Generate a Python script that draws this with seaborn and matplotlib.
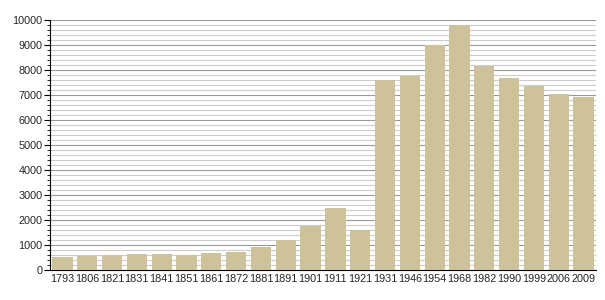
import matplotlib
matplotlib.use("Agg")
import matplotlib.pyplot as plt
import seaborn as sns
import pandas as pd
from matplotlib.ticker import MultipleLocator

years = ["1793", "1806", "1821", "1831", "1841", "1851", "1861", "1872", "1881", "1891",
         "1901", "1911", "1921", "1931", "1946", "1954", "1968", "1982", "1990", "1999",
         "2006", "2009"]
population = [530, 560, 590, 640, 640, 600, 680, 720, 920, 1200,
              1770, 2480, 1600, 7600, 7780, 9000, 9800, 8160, 7690, 7370,
              7040, 6930]

df = pd.DataFrame({"year": years, "pop": population})

sns.set_theme(style="white")
plt.rcParams['font.family'] = ['Liberation Sans', 'DejaVu Sans']

fig = plt.figure(figsize=(6.05, 3.0), dpi=100)
ax = fig.add_axes([50/605, 30/300, 546/605, 250/300])

sns.barplot(data=df, x="year", y="pop", color="#cdc29a", saturation=1, width=0.82,
            linewidth=0, edgecolor="none", ax=ax, zorder=3)

ax.set_ylim(0, 10000)
ax.set_xlim(-0.5, len(years) - 0.5)
ax.yaxis.set_major_locator(MultipleLocator(1000))
ax.yaxis.set_minor_locator(MultipleLocator(200))
ax.grid(axis="y", which="major", color="#999999", linewidth=0.8, zorder=0)
ax.grid(axis="y", which="minor", color="#cccccc", linewidth=0.8, zorder=0)
ax.set_axisbelow(True)

for s in ["top", "right"]:
    ax.spines[s].set_visible(False)
ax.spines["left"].set_color("black")
ax.spines["bottom"].set_color("black")
ax.spines["left"].set_linewidth(0.8)
ax.spines["bottom"].set_linewidth(0.8)

ax.tick_params(axis="y", which="major", left=True, length=4, width=0.8, color="black",
               labelsize=7.8, pad=1.5)
ax.tick_params(axis="y", which="minor", left=True, length=2.5, width=0.6, color="black")
ax.tick_params(axis="x", bottom=False, length=0, labelsize=7.8, pad=3)
ax.set_xlabel("")
ax.set_ylabel("")

fig.savefig("out.png", dpi=100)
